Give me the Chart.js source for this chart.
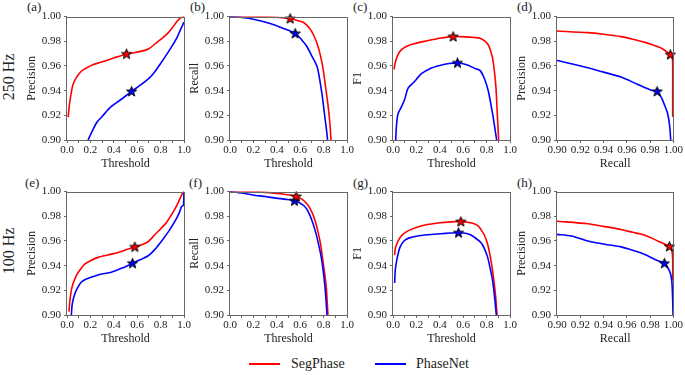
<!DOCTYPE html>
<html><head><meta charset="utf-8">
<script src="https://cdn.jsdelivr.net/npm/chart.js@4"></script>
<style>
body{margin:0;width:685px;height:375px;background:#fff;position:relative;overflow:hidden;font-family:'Liberation Serif',serif;color:#222}
canvas{position:absolute}
.lbl{position:absolute;font-size:13px;line-height:14px}
.rot{position:absolute;width:70px;height:18px;line-height:18px;font-size:16px;text-align:center;transform:rotate(-90deg);white-space:nowrap}
.leg{position:absolute;font-size:14px;line-height:18px}
.ln{position:absolute;height:2px}
</style></head><body>
<div class="lbl" style="left:27px;top:0px">(a)</div>
<div class="lbl" style="left:190px;top:0px">(b)</div>
<div class="lbl" style="left:353px;top:0px">(c)</div>
<div class="lbl" style="left:517px;top:0px">(d)</div>
<div class="lbl" style="left:25px;top:176px">(e)</div>
<div class="lbl" style="left:189px;top:176px">(f)</div>
<div class="lbl" style="left:353px;top:176px">(g)</div>
<div class="lbl" style="left:517px;top:176px">(h)</div>
<div class="rot" style="left:-26px;top:68px">250 Hz</div>
<div class="rot" style="left:-26px;top:242px">100 Hz</div>
<div class="ln" style="left:249px;top:363px;width:31px;background:#ff0000"></div>
<div class="leg" style="left:291px;top:355px">SegPhase</div>
<div class="ln" style="left:375px;top:363px;width:31px;background:#0000ff"></div>
<div class="leg" style="left:416px;top:355px">PhaseNet</div>
<script>
// ---- data ----
const thrTicks = [0,0.1,0.2,0.3,0.4,0.5,0.6,0.7,0.8,0.9,1.0];
const recTicks = [0.90,0.92,0.94,0.96,0.98,1.00];
const yTicks = [0.90,0.92,0.94,0.96,0.98,1.00];

// (a) 250 Hz precision vs threshold
const aSegX = [0.01,0.02,0.03,0.05,0.08,0.12,0.17,0.22,0.29,0.40,0.51,0.63,0.70,0.76,0.82,0.86,0.90,0.94,0.97,1.0];
const aSegY = [0.9186,0.928,0.9346,0.9445,0.9505,0.9555,0.9585,0.961,0.963,0.9665,0.9697,0.9718,0.974,0.9785,0.983,0.9864,0.991,0.996,0.999,1.0];
const aNetX = [0.18,0.22,0.257,0.30,0.372,0.45,0.552,0.62,0.70,0.744,0.80,0.887,0.94,0.973,1.0];
const aNetY = [0.90,0.908,0.9146,0.919,0.9266,0.932,0.9394,0.944,0.950,0.9545,0.962,0.9745,0.983,0.990,0.9955];
// (b) 250 Hz recall vs threshold
const bSegX = [0,0.1,0.2,0.3,0.4,0.46,0.514,0.57,0.629,0.68,0.714,0.745,0.771,0.795,0.814,0.83,0.843,0.855,0.863];
const bSegY = [1.0,1.0,1.0,0.9999,0.9995,0.999,0.9984,0.997,0.9952,0.9905,0.9851,0.978,0.9692,0.958,0.945,0.934,0.924,0.912,0.90];
const bNetX = [0,0.1,0.2,0.343,0.457,0.557,0.61,0.657,0.70,0.743,0.765,0.786,0.80,0.814,0.825,0.834];
const bNetY = [1.0,0.9993,0.9979,0.9944,0.9904,0.9864,0.9815,0.9758,0.968,0.9599,0.950,0.9373,0.927,0.916,0.908,0.90];
// (c) 250 Hz F1 vs threshold
const cSegX = [0.009,0.02,0.043,0.07,0.114,0.18,0.286,0.40,0.514,0.62,0.70,0.743,0.78,0.814,0.835,0.851,0.866,0.88,0.892,0.903];
const cSegY = [0.9572,0.963,0.9692,0.973,0.9758,0.978,0.9803,0.9825,0.9838,0.9836,0.9830,0.9824,0.9805,0.9772,0.972,0.9665,0.956,0.9425,0.92,0.90];
const cNetX = [0.023,0.03,0.043,0.071,0.10,0.129,0.18,0.243,0.32,0.40,0.48,0.551,0.63,0.70,0.743,0.78,0.814,0.851,0.87,0.886];
const cNetY = [0.90,0.912,0.9213,0.9266,0.933,0.942,0.947,0.9537,0.958,0.9604,0.962,0.9625,0.961,0.958,0.9564,0.950,0.9399,0.9213,0.91,0.90];
// (d) 250 Hz precision vs recall
const dSegX = [0.90,0.9266,0.94,0.955,0.965,0.975,0.9825,0.9894,0.9974,0.9992,0.9994,0.9994];
const dSegY = [0.9883,0.987,0.9857,0.9838,0.9817,0.9793,0.977,0.9745,0.9692,0.967,0.94,0.9186];
const dNetX = [0.90,0.9266,0.94,0.955,0.969,0.981,0.986,0.990,0.992,0.9951,0.9969,0.9977];
const dNetY = [0.9644,0.9585,0.955,0.951,0.9452,0.9404,0.9394,0.934,0.9293,0.9213,0.9106,0.90];
// (e) 100 Hz precision vs threshold
const eSegX = [0.017,0.025,0.037,0.05,0.08,0.115,0.151,0.2,0.266,0.35,0.437,0.51,0.58,0.64,0.694,0.75,0.809,0.85,0.894,0.94,0.98,1.0];
const eSegY = [0.9027,0.912,0.92,0.925,0.932,0.937,0.9413,0.944,0.9467,0.9487,0.9507,0.953,0.9552,0.957,0.9595,0.965,0.9707,0.975,0.9813,0.989,0.9973,1.0];
const eNetX = [0.037,0.045,0.066,0.09,0.123,0.16,0.209,0.28,0.38,0.47,0.56,0.62,0.694,0.75,0.809,0.87,0.923,0.96,0.98,0.995,1.0];
const eNetY = [0.90,0.909,0.917,0.922,0.9267,0.929,0.9307,0.9328,0.9347,0.938,0.9419,0.9445,0.948,0.953,0.96,0.968,0.976,0.983,0.988,0.989,1.0];
// (f) 100 Hz recall vs threshold
const fSegX = [0,0.1,0.2,0.337,0.45,0.566,0.62,0.651,0.68,0.709,0.73,0.751,0.775,0.794,0.81,0.823,0.83,0.837];
const fSegY = [1.0,1.0,1.0,0.9992,0.998,0.996,0.9935,0.9907,0.987,0.9813,0.9755,0.968,0.957,0.944,0.933,0.9227,0.912,0.90];
const fNetX = [0,0.1,0.194,0.30,0.394,0.48,0.551,0.623,0.655,0.68,0.71,0.737,0.76,0.78,0.795,0.809,0.82,0.829];
const fNetY = [1.0,0.9988,0.9973,0.996,0.9947,0.9937,0.9925,0.9893,0.986,0.9813,0.974,0.9653,0.956,0.9467,0.937,0.9253,0.913,0.90];
// (g) 100 Hz F1 vs threshold
const gSegX = [0.014,0.02,0.037,0.07,0.123,0.2,0.294,0.4,0.494,0.58,0.65,0.694,0.73,0.751,0.78,0.809,0.83,0.851,0.866,0.88,0.889];
const gSegY = [0.9485,0.954,0.9587,0.964,0.968,0.971,0.9733,0.9748,0.9755,0.9757,0.975,0.9739,0.972,0.9693,0.965,0.9573,0.948,0.936,0.925,0.912,0.90];
const gNetX = [0.014,0.02,0.037,0.06,0.094,0.14,0.209,0.30,0.409,0.49,0.56,0.62,0.666,0.71,0.751,0.78,0.809,0.83,0.851,0.87,0.883];
const gNetY = [0.9259,0.937,0.9467,0.955,0.96,0.9625,0.964,0.965,0.9659,0.9664,0.9667,0.9662,0.9648,0.962,0.9587,0.954,0.9467,0.938,0.928,0.913,0.90];
// (h) 100 Hz precision vs recall
const hSegX = [0.90,0.9266,0.94,0.955,0.965,0.975,0.9866,0.9966,0.9985,0.9994,0.9994];
const hSegY = [0.976,0.9739,0.9718,0.9693,0.967,0.9648,0.96,0.9555,0.953,0.945,0.928];
const hNetX = [0.90,0.9123,0.9266,0.9409,0.955,0.965,0.975,0.9866,0.9923,0.9966,0.9986,0.9994,0.9997];
const hNetY = [0.9653,0.964,0.960,0.9573,0.9552,0.9525,0.9493,0.944,0.9419,0.936,0.928,0.912,0.90];
// best-threshold stars [x, y]
const starsSeg = {a:[0.509,0.9697],b:[0.514,0.9984],c:[0.514,0.9838],d:[0.9974,0.9692],e:[0.58,0.9552],f:[0.566,0.996],g:[0.58,0.9757],h:[0.9966,0.9555]};
const starsNet = {a:[0.552,0.9394],b:[0.557,0.9864],c:[0.551,0.9625],d:[0.986,0.9394],e:[0.56,0.9419],f:[0.551,0.9925],g:[0.56,0.9667],h:[0.9923,0.9419]};

// ---- drawing ----
Chart.defaults.font.family = "'Liberation Serif', serif";
Chart.defaults.font.size = 11;
Chart.defaults.color = '#222';

function starImg(color){
  const c=document.createElement('canvas');c.width=c.height=13;
  const g=c.getContext('2d');g.beginPath();
  for(let i=0;i<10;i++){const r=i%2?2.2:5.3;const a=-Math.PI/2+i*Math.PI/5;g.lineTo(6.5+r*Math.cos(a),6.8+r*Math.sin(a));}
  g.closePath();g.fillStyle=color;g.fill();g.lineWidth=1;g.strokeStyle='#000';g.stroke();
  return c;
}
const starRed = starImg('#ff0000'), starBlue = starImg('#0000ff');

const framePlugin = {id:'frame', afterDraw(chart){
  const a=chart.chartArea, g=chart.ctx;
  g.save(); g.strokeStyle='#666'; g.lineWidth=1;
  g.strokeRect(Math.round(a.left)-0.5, Math.round(a.top)+0.5, Math.round(a.right-a.left)+1, Math.round(a.bottom-a.top));
  g.restore();
}};

const PW=117, PH=125, YW=42, XH=31, PT=8, PR=10;
function pts(xs,ys){return xs.map((x,i)=>({x:x,y:ys[i]}));}

function panel(L,T,isRecall,xTitle,yTitle,sx,sy,nx,ny,ss,sn){
  const cv=document.createElement('canvas');
  cv.width=YW+PW+PR; cv.height=PT+PH+XH;
  cv.style.left=(L-YW)+'px'; cv.style.top=(T-PT)+'px';
  document.body.appendChild(cv);
  const xt = isRecall?recTicks:thrTicks;
  new Chart(cv,{type:'line',
    data:{datasets:[
      {data:[{x:ss[0],y:ss[1]}],showLine:false,pointStyle:starRed,pointRadius:5,order:0,clip:false},
      {data:[{x:sn[0],y:sn[1]}],showLine:false,pointStyle:starBlue,pointRadius:5,order:0,clip:false},
      {data:pts(sx,sy),borderColor:'#ff0000',borderWidth:1.6,pointRadius:0,tension:0.25,order:2},
      {data:pts(nx,ny),borderColor:'#0000ff',borderWidth:1.6,pointRadius:0,tension:0.25,order:1}
    ]},
    options:{responsive:false,animation:false,devicePixelRatio:1,
      layout:{padding:{top:PT,right:PR,left:0,bottom:0},autoPadding:false},
      plugins:{legend:{display:false},tooltip:{enabled:false}},
      scales:{
        x:{type:'linear',min:isRecall?0.9:0,max:1,
          afterBuildTicks:s=>{s.ticks=xt.map(v=>({value:v}));},
          afterFit:s=>{s.height=XH;},
          ticks:{autoSkip:false,maxRotation:0,padding:1,color:'#222',
            callback:(v)=>isRecall?v.toFixed(2):(Math.round(v*10)%2===0?v.toFixed(1):'')},
          grid:{drawOnChartArea:false,tickLength:3,color:'#666'},
          border:{display:false},
          title:{display:true,text:xTitle,font:{size:12},padding:0,color:'#222'}},
        y:{type:'linear',min:0.9,max:1,
          afterBuildTicks:s=>{s.ticks=yTicks.map(v=>({value:v}));},
          afterFit:s=>{s.width=YW;},
          ticks:{autoSkip:false,padding:3,color:'#222',callback:(v)=>v.toFixed(2)},
          grid:{drawOnChartArea:false,tickLength:3,color:'#666'},
          border:{display:false},
          title:{display:true,text:yTitle,font:{size:12},padding:0,color:'#222'}}
      }},
    plugins:[framePlugin]
  });
}
const cols=[67,230,393,557], rows=[15,190];
panel(cols[0],rows[0],false,'Threshold','Precision',aSegX,aSegY,aNetX,aNetY,starsSeg.a,starsNet.a);
panel(cols[1],rows[0],false,'Threshold','Recall',bSegX,bSegY,bNetX,bNetY,starsSeg.b,starsNet.b);
panel(cols[2],rows[0],false,'Threshold','F1',cSegX,cSegY,cNetX,cNetY,starsSeg.c,starsNet.c);
panel(cols[3],rows[0],true,'Recall','Precision',dSegX,dSegY,dNetX,dNetY,starsSeg.d,starsNet.d);
panel(cols[0],rows[1],false,'Threshold','Precision',eSegX,eSegY,eNetX,eNetY,starsSeg.e,starsNet.e);
panel(cols[1],rows[1],false,'Threshold','Recall',fSegX,fSegY,fNetX,fNetY,starsSeg.f,starsNet.f);
panel(cols[2],rows[1],false,'Threshold','F1',gSegX,gSegY,gNetX,gNetY,starsSeg.g,starsNet.g);
panel(cols[3],rows[1],true,'Recall','Precision',hSegX,hSegY,hNetX,hNetY,starsSeg.h,starsNet.h);
</script>
</body></html>
